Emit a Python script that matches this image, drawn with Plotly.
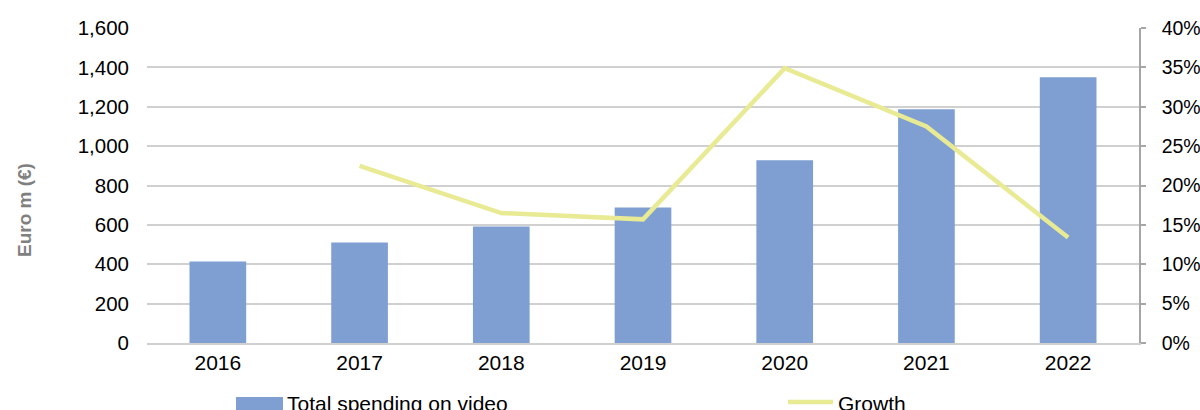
import plotly.graph_objects as go

years = ["2016", "2017", "2018", "2019", "2020", "2021", "2022"]
spending = [414, 510, 592, 688, 928, 1187, 1350]
growth_years = ["2017", "2018", "2019", "2020", "2021", "2022"]
growth = [0.225, 0.165, 0.157, 0.349, 0.275, 0.134]

bar_name = "Total spending on video"
line_name = "Growth"
y_title = "Euro m (€)"

BAR_COLOR = "#7f9fd3"
LINE_COLOR = "#e8ea94"
GRID = "#d0d0d0"
FONT = "Liberation Sans, Arial, sans-serif"

fig = go.Figure()
fig.add_trace(go.Bar(x=years, y=spending, name=bar_name, marker=dict(color=BAR_COLOR, line=dict(width=0)),
                     showlegend=False))
fig.add_trace(go.Scatter(x=growth_years, y=growth, name=line_name, mode="lines", yaxis="y2",
                         line=dict(color=LINE_COLOR, width=4.5), showlegend=False))

W, H = 1200, 410
L, R, T, B = 147, 61, 28, 67
pw = W - L - R
ph = H - T - B

def px(x):
    return (x - L) / pw

def py(y):
    return (H - B - y) / ph

fig.update_layout(
    width=W, height=H,
    margin=dict(l=L, r=R, t=T, b=B, pad=0, autoexpand=False),
    paper_bgcolor="white", plot_bgcolor="white",
    font=dict(family=FONT, size=20, color="#000000"),
    bargap=0.6,
    showlegend=False,
    xaxis=dict(type="category", showgrid=False, showline=True, linecolor=GRID, linewidth=1.5,
               ticks="", ticklabelstandoff=0, tickfont=dict(size=21), automargin=False),
    yaxis=dict(range=[0, 1600], dtick=200, tickformat=",", showgrid=True, gridcolor=GRID, gridwidth=1.5,
               zeroline=False, showline=False, ticks="", ticklabelstandoff=17, tickfont=dict(size=20.5),
               automargin=False),
    yaxis2=dict(range=[0, 0.40], dtick=0.05, tickformat=".0%", overlaying="y", side="right",
                showgrid=False, zeroline=False, showline=True, linecolor="#a6a6a6", linewidth=1.5,
                ticks="outside", ticklen=5, tickcolor="#a6a6a6", tickwidth=1.5,
                ticklabelstandoff=12, tickfont=dict(size=19.5), automargin=False),
)

fig.add_annotation(text="<b>" + y_title + "</b>", xref="paper", yref="paper", x=px(25), y=py(210),
                   textangle=-90, showarrow=False, font=dict(size=19, color="#808080", family=FONT),
                   xanchor="center", yanchor="middle")

# legend
fig.add_shape(type="rect", xref="paper", yref="paper", x0=px(236), x1=px(283), y0=py(410), y1=py(397),
              fillcolor=BAR_COLOR, line=dict(width=0))
fig.add_annotation(text=bar_name, xref="paper", yref="paper", x=px(285), y=py(403), showarrow=False,
                   xanchor="left", yanchor="middle", font=dict(size=21, family=FONT, color="#000000"))
fig.add_shape(type="line", xref="paper", yref="paper", x0=px(788), x1=px(833), y0=py(402), y1=py(402),
              line=dict(color=LINE_COLOR, width=4.5))
fig.add_annotation(text=line_name, xref="paper", yref="paper", x=px(836), y=py(403), showarrow=False,
                   xanchor="left", yanchor="middle", font=dict(size=21, family=FONT, color="#000000"))

fig.write_html("out.html")
